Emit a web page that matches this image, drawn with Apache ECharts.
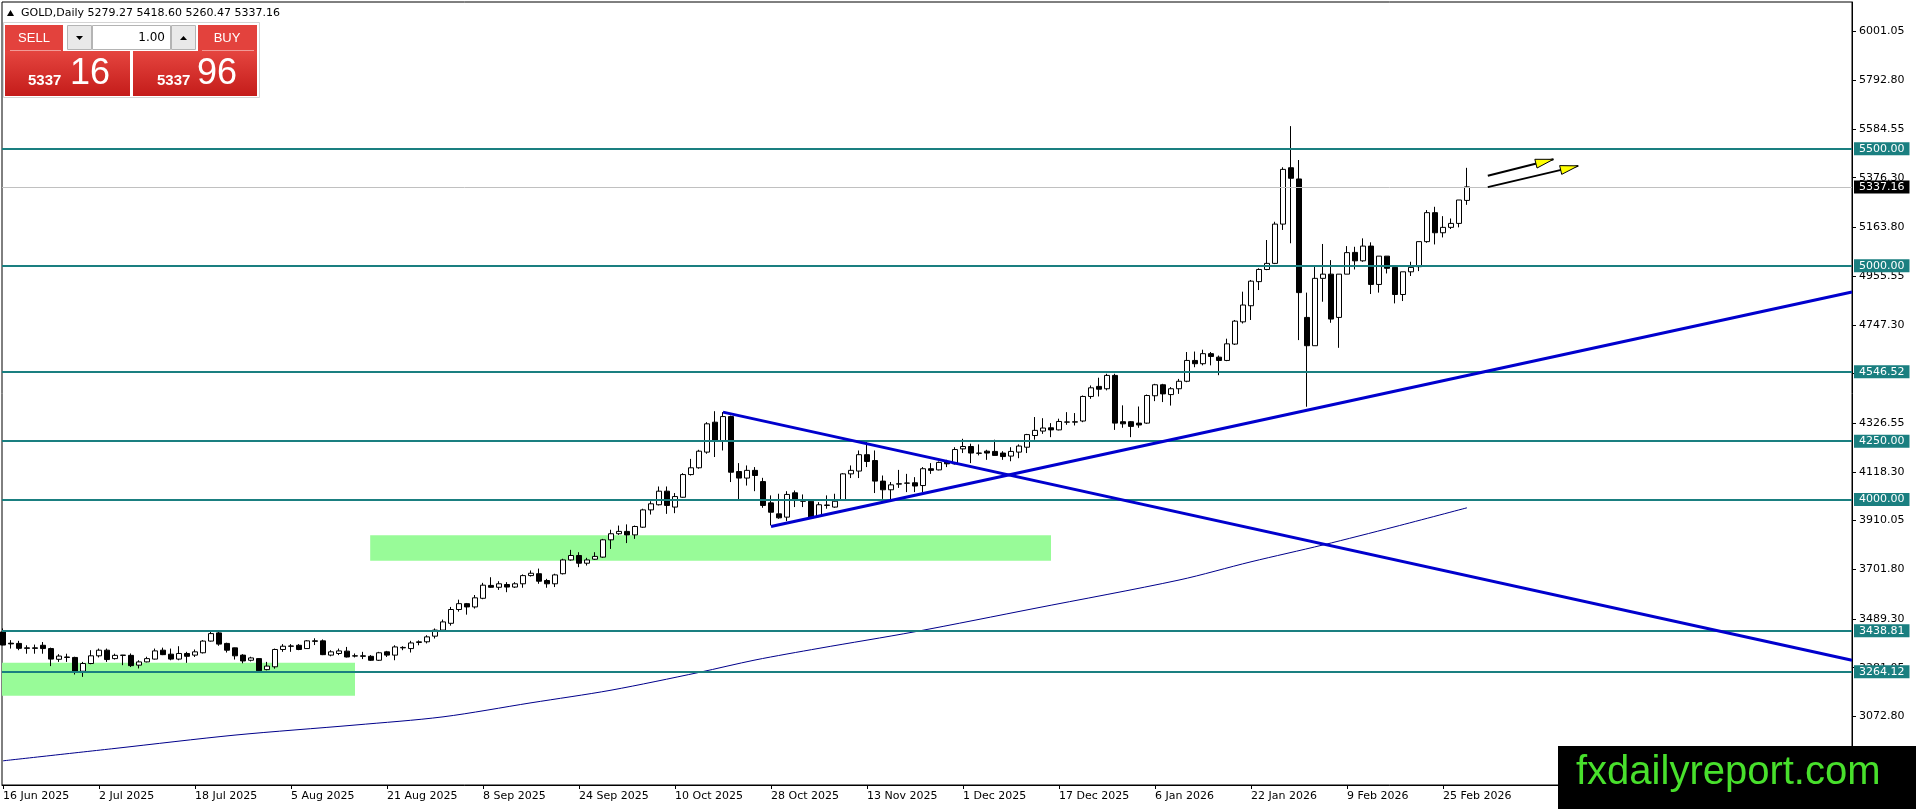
<!DOCTYPE html>
<html><head><meta charset="utf-8">
<script src="https://cdn.jsdelivr.net/npm/echarts@6/dist/echarts.min.js"></script>
<style>html,body{margin:0;padding:0;background:#fff;overflow:hidden}#c{width:1916px;height:809px}</style>
</head><body><div id="c"></div>
<script>
// ---------------- DATA ----------------
const opens = [
3434,3386,3385,3366,3366,3377,3363,3317,3327,3325,
3266,3299,3332,3356,3320,3335,3334,3292,3306,3318,
3356,3339,3318,3342,3335,3345,3395,3430,3385,3366,
3335,3313,3320,3273,3285,3359,3374,3377,3363,3396,
3396,3335,3342,3352,3332,3332,3330,3313,3349,3335,
3366,3363,3389,3392,3416,3442,3471,3530,3555,3541,
3578,3633,3625,3637,3626,3640,3675,3683,3654,3640,
3683,3742,3761,3728,3745,3754,3828,3854,3864,3849,
3882,3956,3978,4036,3968,4010,4107,4136,4203,4331,
4250,4355,4120,4092,4125,4077,3986,3939,3925,4029,
3993,3993,3928,3975,3968,3996,4110,4122,4192,4167,
4079,4042,4066,4070,4072,4060,4132,4127,4161,4153,
4217,4227,4199,4207,4206,4199,4186,4203,4224,4274,
4293,4307,4298,4331,4331,4336,4441,4484,4474,4531,
4333,4333,4327,4327,4444,4491,4449,4474,4506,4595,
4581,4624,4609,4595,4665,4760,4829,4932,4984,5010,
5178,5419,5371,4779,4658,4946,4964,4779,4964,5057,
5021,5084,4920,5041,4993,4877,4974,4996,5103,5227,
5141,5164,5181,5279.27];
const highs = [
3449,3399,3396,3377,3380,3391,3367,3339,3341,3328,
3306,3356,3363,3363,3341,3336,3342,3313,3328,3363,
3367,3363,3373,3349,3359,3399,3434,3434,3388,3367,
3339,3328,3321,3306,3363,3382,3382,3382,3399,3407,
3402,3356,3363,3370,3342,3349,3335,3349,3353,3377,
3373,3396,3398,3420,3449,3487,3541,3572,3558,3592,
3644,3668,3651,3647,3647,3680,3697,3705,3661,3683,
3747,3785,3775,3751,3775,3832,3871,3889,3894,3889,
3961,3993,4056,4056,4028,4113,4174,4213,4331,4378,
4374,4359,4156,4146,4139,4093,4018,4025,4036,4039,
4022,3996,3989,4018,4025,4113,4146,4210,4246,4210,
4103,4075,4127,4110,4096,4139,4156,4163,4170,4224,
4260,4239,4236,4213,4256,4207,4224,4236,4281,4353,
4348,4327,4346,4374,4370,4445,4488,4521,4538,4538,
4403,4336,4398,4449,4495,4495,4481,4516,4631,4633,
4641,4631,4616,4688,4768,4889,4939,4989,5110,5188,
5421,5597,5452,4885,4996,5093,5024,4964,5084,5081,
5117,5100,5041,5041,4993,4974,5017,5103,5238,5252,
5212,5202,5281,5418.60];
const lows = [
3377,3363,3356,3341,3341,3341,3288,3306,3306,3252,
3242,3296,3325,3306,3316,3292,3284,3278,3304,3316,
3335,3313,3313,3302,3327,3342,3393,3375,3346,3316,
3300,3308,3266,3270,3277,3349,3349,3356,3363,3378,
3335,3330,3335,3325,3325,3318,3310,3310,3327,3313,
3356,3346,3377,3385,3406,3435,3461,3521,3508,3534,
3574,3623,3614,3604,3622,3623,3671,3640,3623,3626,
3680,3739,3711,3718,3742,3751,3789,3849,3814,3832,
3879,3936,3975,3939,3942,4008,4103,4132,4196,4182,
4210,4075,3999,4060,4036,3965,3890,3918,3908,3968,
3968,3918,3925,3961,3965,3994,4092,4092,4139,4028,
4003,3999,4050,4032,4032,4032,4110,4125,4139,4150,
4199,4156,4189,4170,4189,4170,4164,4177,4199,4256,
4281,4267,4296,4320,4317,4331,4431,4441,4467,4298,
4307,4267,4307,4324,4421,4417,4402,4452,4502,4566,
4574,4574,4532,4592,4661,4753,4768,4896,4981,5007,
5153,5096,4682,4397,4658,4846,4756,4649,4964,4984,
5017,4879,4885,4967,4839,4849,4956,4977,5098,5091,
5121,5157,5164,5260.47];
const closes = [
3378,3383,3364,3364,3364,3363,3318,3331,3325,3266,
3299,3332,3356,3316,3334,3334,3290,3306,3320,3353,
3337,3318,3342,3330,3349,3395,3427,3382,3356,3332,
3310,3323,3268,3288,3359,3373,3373,3359,3396,3394,
3337,3349,3353,3327,3331,3330,3313,3345,3335,3370,
3368,3387,3392,3413,3442,3477,3530,3555,3541,3580,
3634,3625,3640,3626,3640,3675,3685,3651,3640,3678,
3742,3761,3728,3742,3757,3828,3854,3864,3849,3885,
3956,3982,4036,3975,4013,4107,4136,4207,4324,4253,
4355,4117,4092,4125,4103,3975,3946,3922,4022,3996,
3994,3922,3978,3977,3993,4110,4125,4192,4163,4079,
4042,4063,4068,4071,4058,4132,4125,4159,4153,4214,
4227,4199,4198,4199,4189,4184,4206,4229,4278,4296,
4306,4298,4334,4332,4333,4441,4478,4472,4531,4327,
4324,4313,4319,4445,4491,4452,4474,4506,4595,4581,
4624,4612,4595,4666,4763,4832,4934,4984,5010,5178,
5412,5374,4885,4658,4946,4964,4772,4964,5056,5021,
5084,4920,5041,4989,4877,4974,4993,5103,5227,5141,
5164,5181,5281,5337.16];

const tickLabels = ['16 Jun 2025','2 Jul 2025','18 Jul 2025','5 Aug 2025','21 Aug 2025','8 Sep 2025',
  '24 Sep 2025','10 Oct 2025','28 Oct 2025','13 Nov 2025','1 Dec 2025','17 Dec 2025','6 Jan 2026',
  '22 Jan 2026','9 Feb 2026','25 Feb 2026'];
const tickStep = 12;
const priceTicks = [6001.05,5792.80,5584.55,5376.30,5163.80,4955.55,4747.30,4539.05,4326.55,4118.30,
  3910.05,3701.80,3489.30,3281.05,3072.80];
const levels = [5500.00,5000.00,4546.52,4250.00,4000.00,3438.81,3264.12];
const lastPrice = 5337.16;
const maIdx = [0,14,29,44,55,66,76,87,94,102,114,129,147,156,165,174,183];
const maVal = [2883,2936,2993,3036,3071,3131,3185,3261,3314,3364,3435,3535,3656,3734,3806,3884,3965];
const downTrend = [[90,4374],[231.125,3313]];
const upTrend = [[96,3885],[231.125,4888]];
const zones = [[[-0.125,3302],[44,3161]],[[45.9,3848],[131,3738.5]]];
const arrows = [[[185.6,5385],[193.8,5455]],[[185.6,5336],[196.9,5427]]];
const header = ['GOLD,Daily','5279.27','5418.60','5260.47','5337.16'];
const lotText = '1.00';
const sellQuote = ['5337','16'];
const buyQuote = ['5337','96'];
const watermark = 'fxdailyreport.com';

// ---------------- CHART ----------------
const FONT = 'DejaVu Sans';
const TEAL = '#1a7f80';
const tickIdx = tickLabels.map((_, k) => k * tickStep);
const candles = opens.map((o, i) => [i, o, closes[i], lows[i], highs[i]]);

const option = {
  animation: false,
  backgroundColor: '#ffffff',
  grid: {left: 2, right: 64, top: 2, bottom: 24, show: true, borderColor: '#000', borderWidth: 1,
         backgroundColor: 'transparent', containLabel: false, outerBoundsMode: 'none'},
  xAxis: {
    type: 'value', min: -0.125, max: 231.125,
    axisLine: {show: true, onZero: false, lineStyle: {color: '#000', width: 1}},
    axisTick: {show: true, length: 4, customValues: tickIdx, lineStyle: {color: '#000'}},
    axisLabel: {customValues: tickIdx, formatter: v => tickLabels[Math.round(v / tickStep)] || '',
                align: 'left', color: '#000', fontFamily: FONT, fontSize: 11, margin: 6},
    splitLine: {show: false}
  },
  yAxis: {
    type: 'value', position: 'right', min: 2779.6, max: 6127.7,
    axisLine: {show: true, onZero: false, lineStyle: {color: '#000', width: 1}},
    axisTick: {show: true, length: 4, customValues: priceTicks, lineStyle: {color: '#000'}},
    axisLabel: {customValues: priceTicks, formatter: v => v.toFixed(2), color: '#000',
                fontFamily: FONT, fontSize: 11, margin: 7},
    splitLine: {show: false}
  },
  series: [
    {
      name: 'zones', type: 'line', data: [], silent: true, z: 1,
      markArea: {silent: true, itemStyle: {color: '#98fb98', opacity: 1},
        data: zones.map(z => [{coord: z[0]}, {coord: z[1]}])}
    },
    {
      name: 'GOLD', type: 'candlestick', data: candles, encode: {x: 0, y: [1, 2, 3, 4]},
      barWidth: 5, z: 2, silent: true,
      itemStyle: {color: '#ffffff', color0: '#000000', borderColor: '#000000', borderColor0: '#000000', borderWidth: 1}
    },
    {
      name: 'MA', type: 'line', data: maIdx.map((x, k) => [x, maVal[k]]), smooth: 0.3,
      showSymbol: false, silent: true, z: 3, lineStyle: {color: '#00008b', width: 1}
    },
    {
      name: 'levels', type: 'line', data: [], silent: true, z: 5, clip: false,
      markLine: {
        silent: true, symbol: ['none', 'none'], animation: false,
        data: levels.map(v => ({yAxis: v, lineStyle: {color: TEAL, width: 2, type: 'solid'},
          label: {show: true, position: 'end', distance: 2, formatter: () => v.toFixed(2),
            backgroundColor: TEAL, color: '#fff', padding: [1, 5, 0, 5], fontFamily: FONT, fontSize: 11, lineHeight: 12}}))
          .concat([{yAxis: lastPrice, lineStyle: {color: '#c0c0c0', width: 1, type: 'solid'},
            label: {show: true, position: 'end', distance: 2, formatter: () => lastPrice.toFixed(2),
              backgroundColor: '#000', color: '#fff', padding: [1, 5, 0, 5], fontFamily: FONT, fontSize: 11, lineHeight: 12}}])
      }
    },
    {
      name: 'trend', type: 'line', data: [], silent: true, z: 6,
      markLine: {
        silent: true, symbol: ['none', 'none'], animation: false, label: {show: false},
        data: [
          [{coord: downTrend[0], lineStyle: {color: '#0000cd', width: 3, type: 'solid'}}, {coord: downTrend[1]}],
          [{coord: upTrend[0], lineStyle: {color: '#0000cd', width: 3, type: 'solid'}}, {coord: upTrend[1]}],
          [{coord: arrows[0][0], lineStyle: {color: '#000', width: 2, type: 'solid'}}, {coord: arrows[0][1]}],
          [{coord: arrows[1][0], lineStyle: {color: '#000', width: 2, type: 'solid'}}, {coord: arrows[1][1]}]
        ]
      }
    }
  ]
};

const chart = echarts.init(document.getElementById('c'), null, {renderer: 'canvas'});
chart.setOption(option);

// arrow heads positioned through the chart's own scales
const heads = arrows.map(a => {
  const p0 = chart.convertToPixel({gridIndex: 0}, a[0]);
  const p1 = chart.convertToPixel({gridIndex: 0}, a[1]);
  const dx = p1[0] - p0[0], dy = p1[1] - p0[1], L = Math.hypot(dx, dy);
  const ux = dx / L, uy = dy / L, nx = -uy, ny = ux;
  const bx = p1[0] - 18 * ux, by = p1[1] - 18 * uy;
  return {type: 'polygon', z: 60, silent: true,
    shape: {points: [[p1[0], p1[1]], [bx + 4.5 * nx, by + 4.5 * ny], [bx - 4.5 * nx, by - 4.5 * ny]]},
    style: {fill: '#ffff00', stroke: '#000', lineWidth: 1}};
});

const redGrad = {type: 'linear', x: 0, y: 0, x2: 0, y2: 1,
  colorStops: [{offset: 0, color: '#e5453f'}, {offset: 1, color: '#c41c1a'}]};
const LS = 'Liberation Sans';
const panel = [
  // header
  {type: 'polygon', z: 70, silent: true, shape: {points: [[7, 16], [10.5, 10], [14, 16]]}, style: {fill: '#000'}},
  {type: 'text', z: 70, silent: true, x: 21, y: 13,
    style: {text: header[0] + ' ' + header.slice(1).join(' '), fill: '#000', font: '11px "' + FONT + '"', verticalAlign: 'middle'}},
  // panel frame
  {type: 'rect', z: 70, silent: true, shape: {x: 3.5, y: 22.5, width: 256, height: 75}, style: {fill: '#ffffff', stroke: '#d4d4d4', lineWidth: 1}},
  // SELL
  {type: 'rect', z: 71, silent: true, shape: {x: 5, y: 25, width: 58, height: 27}, style: {fill: '#e3423d'}},
  {type: 'rect', z: 71, silent: true, shape: {x: 5, y: 51, width: 125, height: 45}, style: {fill: redGrad}},
  {type: 'line', z: 72, silent: true, shape: {x1: 10, y1: 50.5, x2: 61, y2: 50.5}, style: {stroke: '#f19a96', lineWidth: 1}},
  {type: 'text', z: 73, silent: true, x: 34, y: 38, style: {text: 'SELL', fill: '#fff', font: '13px "' + LS + '"', align: 'center', verticalAlign: 'middle'}},
  {type: 'text', z: 73, silent: true, x: 28, y: 81, style: {text: sellQuote[0], fill: '#fff', font: 'bold 15px "' + LS + '"', verticalAlign: 'middle'}},
  {type: 'text', z: 73, silent: true, x: 70, y: 74, style: {text: sellQuote[1], fill: '#fff', font: '36px "' + LS + '"', verticalAlign: 'middle'}},
  // BUY
  {type: 'rect', z: 71, silent: true, shape: {x: 198, y: 25, width: 59, height: 27}, style: {fill: '#e3423d'}},
  {type: 'rect', z: 71, silent: true, shape: {x: 133, y: 51, width: 124, height: 45}, style: {fill: redGrad}},
  {type: 'line', z: 72, silent: true, shape: {x1: 202, y1: 50.5, x2: 254, y2: 50.5}, style: {stroke: '#f19a96', lineWidth: 1}},
  {type: 'text', z: 73, silent: true, x: 227, y: 38, style: {text: 'BUY', fill: '#fff', font: '13px "' + LS + '"', align: 'center', verticalAlign: 'middle'}},
  {type: 'text', z: 73, silent: true, x: 157, y: 81, style: {text: buyQuote[0], fill: '#fff', font: 'bold 15px "' + LS + '"', verticalAlign: 'middle'}},
  {type: 'text', z: 73, silent: true, x: 197, y: 74, style: {text: buyQuote[1], fill: '#fff', font: '36px "' + LS + '"', verticalAlign: 'middle'}},
  // lot controls
  {type: 'rect', z: 71, silent: true, shape: {x: 67.5, y: 25.5, width: 24, height: 24}, style: {fill: '#e9e9e9', stroke: '#b4b4b4', lineWidth: 1}},
  {type: 'polygon', z: 72, silent: true, shape: {points: [[76, 36], [83, 36], [79.5, 40]]}, style: {fill: '#000'}},
  {type: 'rect', z: 71, silent: true, shape: {x: 92.5, y: 25.5, width: 78, height: 24}, style: {fill: '#ffffff', stroke: '#b4b4b4', lineWidth: 1}},
  {type: 'text', z: 73, silent: true, x: 165, y: 37.5, style: {text: lotText, fill: '#000', font: '12px "' + FONT + '"', align: 'right', verticalAlign: 'middle'}},
  {type: 'rect', z: 71, silent: true, shape: {x: 171.5, y: 25.5, width: 24, height: 24}, style: {fill: '#e9e9e9', stroke: '#b4b4b4', lineWidth: 1}},
  {type: 'polygon', z: 72, silent: true, shape: {points: [[180, 40], [187, 40], [183.5, 36]]}, style: {fill: '#000'}},
  // watermark
  {type: 'rect', z: 80, silent: true, shape: {x: 1558, y: 746, width: 358, height: 63}, style: {fill: '#000'}},
  {type: 'text', z: 81, silent: true, x: 1576, y: 773, style: {text: watermark, fill: '#48e02c', font: '40px "' + LS + '"', verticalAlign: 'middle'}}
];

chart.setOption({graphic: panel.concat(heads)});
</script>
</body></html>
